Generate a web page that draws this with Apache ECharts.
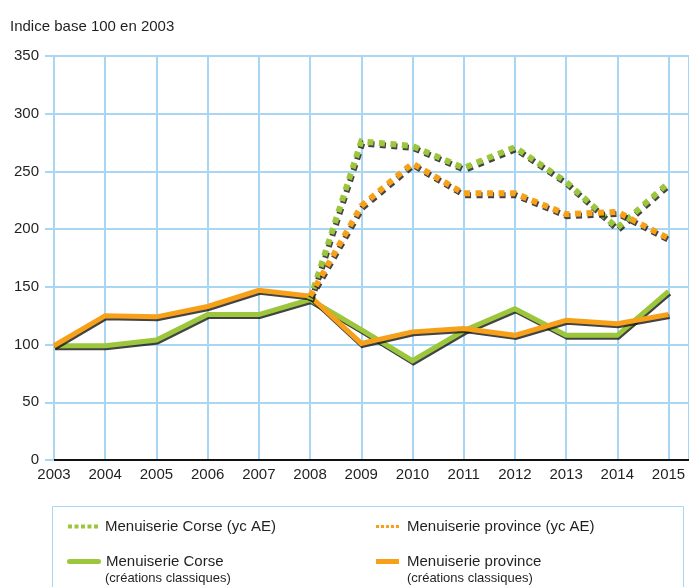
<!DOCTYPE html>
<html lang="fr">
<head>
  <meta charset="utf-8" />
  <title>Menuiserie</title>
  <style>
    html, body { margin: 0; padding: 0; background: #fff; }
    #main { width: 689px; height: 587px; }
  </style>
</head>
<body>
  <div id="main"></div>
  <script src="https://cdn.jsdelivr.net/npm/echarts@6/dist/echarts.min.js"></script>
  <script>
    let years = [2003, 2004, 2005, 2006, 2007, 2008, 2009, 2010, 2011, 2012, 2013, 2014, 2015];
    let corseClassic = [99, 99, 104, 126, 126, 139, 113, 86, 112, 131, 108, 108, 146];
    let provinceClassic = [99, 125, 124, 133, 147, 142, 101, 111, 114, 108, 121, 118, 126];
    let corseAE = [null, null, null, null, null, 139, 276, 272, 253, 271, 241, 201, 240];
    let provinceAE = [null, null, null, null, null, 142, 220, 257, 231, 231, 213, 215, 192];

    let green = "#9cc63c";
    let orange = "#f7a11b";
    let gridBlue = "#a9d6f3";
    let textColor = "#231f20";
    let font = "Liberation Sans, Arial, sans-serif";

    // legend icons
    let dotIcon = "path://M0 0h4v4H0zM6.5 0h4v4h-4zM13 0h4v4h-4zM19.5 0h4v4h-4zM26 0h4v4h-4z";
    let barIcon = "path://M2.5 0h29a2.5 2.5 0 0 1 0 5h-29a2.5 2.5 0 0 1 0-5z";
    let flatIcon = "path://M0 0h23v5H0z";

    function pairs(vals) {
      return years.map(function (y, i) { return [y, vals[i]]; });
    }

    function lineSeries(name, vals, color, dotted) {
      return {
        name: name,
        type: "line",
        showSymbol: false,
        symbol: "none",
        connectNulls: false,
        data: pairs(vals),
        lineStyle: {
          color: color,
          width: dotted ? 6 : 5,
          type: dotted ? [6, 5.5] : "solid",
          cap: "butt",
          join: "miter",
          shadowColor: "rgba(20,20,20,0.8)",
          shadowOffsetX: 1,
          shadowOffsetY: 2,
          shadowBlur: 0,
        },
        itemStyle: { color: color },
        emphasis: { disabled: true },
      };
    }

    function legendAt(name, left, top, icon, w, h, pad) {
      return {
        data: [{ name: name, icon: icon }],
        left: left,
        top: top,
        itemWidth: w,
        itemHeight: h,
        selectedMode: false,
        itemStyle: { shadowColor: "rgba(0,0,0,0)", borderWidth: 0 },
        textStyle: { fontFamily: font, fontSize: 15, color: textColor, padding: [0, 0, 0, pad] },
      };
    }

    option = {
      animation: false,
      title: {
        text: "Indice base 100 en 2003",
        left: 5,
        top: 14,
        textStyle: { fontFamily: font, fontSize: 15, fontWeight: "normal", color: textColor },
      },
      grid: {
        left: 54,
        right: 0,
        top: 56,
        bottom: 127,
        containLabel: false,
      },
      xAxis: {
        type: "value",
        min: 2003,
        max: 2015.4,
        interval: 1,
        axisLine: { show: true, lineStyle: { color: "#111", width: 2 } },
        axisTick: { show: false },
        axisLabel: {
          fontFamily: font,
          fontSize: 15,
          color: textColor,
          margin: 7,
          showMaxLabel: false,
          formatter: function (v) { return Number.isInteger(v) ? String(v) : ""; },
        },
        splitLine: { show: true, lineStyle: { color: gridBlue, width: 2 } },
      },
      yAxis: {
        type: "value",
        min: 0,
        max: 350,
        interval: 50,
        axisLine: { show: false },
        axisTick: { show: true, length: 9, lineStyle: { color: gridBlue, width: 2 } },
        axisLabel: { fontFamily: font, fontSize: 15, color: textColor, margin: 15 },
        splitLine: { show: true, lineStyle: { color: gridBlue, width: 2 } },
      },
      legend: [
        legendAt("Menuiserie Corse (yc AE)", 63, 514, dotIcon, 30, 4, 2),
        legendAt("Menuiserie province (yc AE)", 371, 514, dotIcon, 23, 4, 3),
        legendAt("Menuiserie Corse", 62, 549, barIcon, 34, 5, 0),
        legendAt("Menuiserie province", 371, 549, flatIcon, 23, 5, 3),
      ],
      graphic: [
        {
          type: "rect",
          shape: { x: 52.5, y: 506.5, width: 631, height: 100 },
          style: { fill: "none", stroke: gridBlue, lineWidth: 1 },
          silent: true,
        },
        {
          type: "text",
          left: 105,
          top: 572,
          style: { text: "(créations classiques)", fontFamily: font, fontSize: 13, fill: textColor },
          silent: true,
        },
        {
          type: "text",
          left: 407,
          top: 572,
          style: { text: "(créations classiques)", fontFamily: font, fontSize: 13, fill: textColor },
          silent: true,
        },
      ],
      series: [
        lineSeries("Menuiserie Corse", corseClassic, green, false),
        lineSeries("Menuiserie province", provinceClassic, orange, false),
        lineSeries("Menuiserie Corse (yc AE)", corseAE, green, true),
        lineSeries("Menuiserie province (yc AE)", provinceAE, orange, true),
      ],
    };

    chartLine = echarts.init(document.getElementById("main"));
    chartLine.setOption(option);
  </script>
</body>
</html>
